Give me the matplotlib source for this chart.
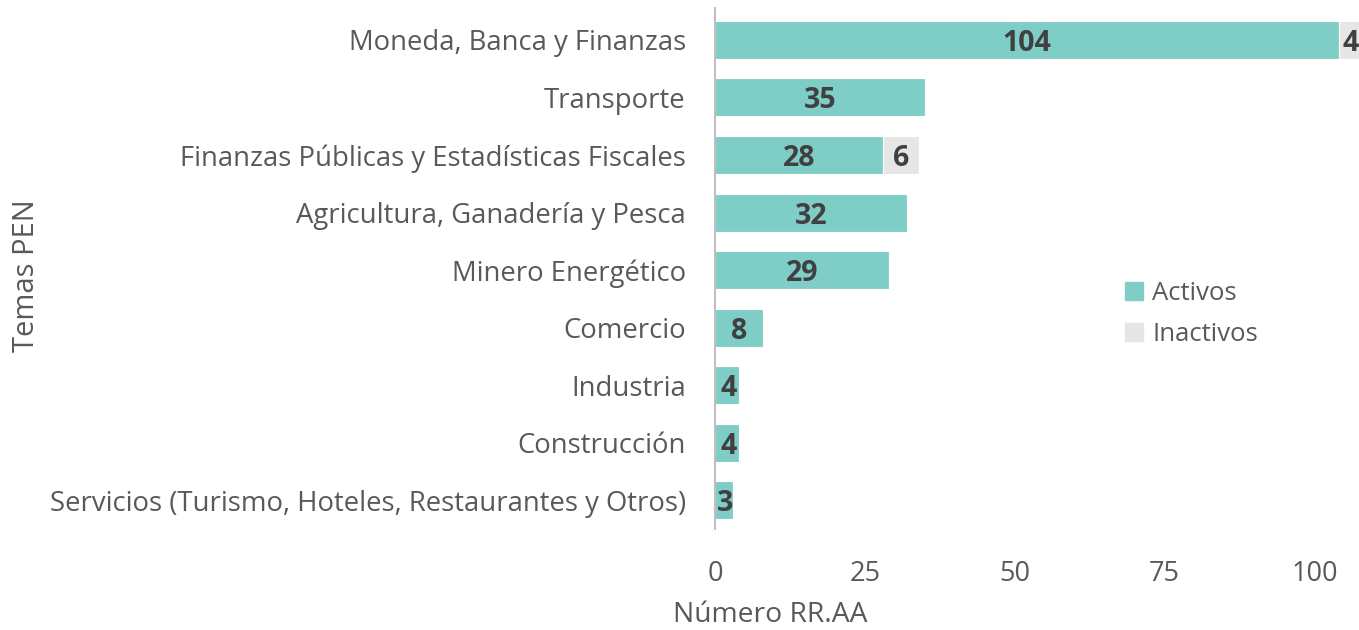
import matplotlib.pyplot as plt
from matplotlib.patches import Patch

plt.rcParams['font.family'] = ['Open Sans', 'DejaVu Sans']

# Data
temas = ['Moneda, Banca y Finanzas', 'Transporte', 'Finanzas Públicas y Estadísticas Fiscales',
         'Agricultura, Ganadería y Pesca', 'Minero Energético', 'Comercio', 'Industria',
         'Construcción', 'Servicios (Turismo, Hoteles, Restaurantes y Otros)']
activos = [104, 35, 28, 32, 29, 8, 4, 4, 3]
inactivos = [4, 0, 6, 0, 0, 0, 0, 0, 0]
xticks = [0, 25, 50, 75, 100]

teal = '#7FCDC7'
gris = '#E6E6E6'
txt = '#595959'
lbl = '#404040'

fig = plt.figure(figsize=(13.59, 6.3), dpi=100)
ax = fig.add_axes([715 / 1359, 0.160, 1 - 715 / 1359, 0.8225])

y = list(range(len(temas)))
ax.barh(y, activos, height=0.66, color=teal, edgecolor='white', linewidth=0.8)
ax.barh(y, inactivos, left=activos, height=0.66, color=gris, edgecolor='white', linewidth=0.8)

for i, (a, n) in enumerate(zip(activos, inactivos)):
    ax.text(a / 2 if a > 5 else a / 2 + 0.2, i, str(a), ha='center', va='center_baseline',
            fontsize=20.5, fontweight='bold', color=lbl)
    if n > 0:
        ax.text(a + n / 2, i, str(n), ha='center', va='center_baseline',
                fontsize=20.5, fontweight='bold', color=lbl)

ax.set_ylim(len(temas) - 0.5, -0.5)
ax.set_xlim(0, 107.4)
ax.set_yticks(y)
ax.set_yticklabels(temas, fontsize=19.8, color=txt)
ax.set_xticks(xticks)
ax.set_xticklabels([str(t) for t in xticks], fontsize=19.5, color=txt)
ax.tick_params(axis='both', length=0)
ax.tick_params(axis='y', pad=21)
ax.tick_params(axis='x', pad=22)

for s in ['top', 'right', 'bottom']:
    ax.spines[s].set_visible(False)
ax.spines['left'].set_color('#BFBFBF')
ax.spines['left'].set_linewidth(1.5)
ax.spines['left'].set_bounds(len(temas) - 0.5, -0.55)

fig.text(770 / 1359, 1 - 615 / 630, 'Número RR.AA', ha='center', va='center', fontsize=20.3, color=txt)
fig.text(27 / 1359, 1 - 276 / 630, 'Temas PEN', ha='center', va='center', rotation=90,
         fontsize=21, color=txt)

handles = [Patch(color=teal), Patch(color=gris)]
fig.legend(handles, ['Activos', 'Inactivos'], loc='center left',
           bbox_to_anchor=(1110 / 1359, 1 - 314 / 630), frameon=False, fontsize=18.5,
           labelcolor=txt, handlelength=0.7, handleheight=0.7, handletextpad=0.35,
           labelspacing=0.65, borderaxespad=0.2)

fig.savefig('out.png', dpi=100)
